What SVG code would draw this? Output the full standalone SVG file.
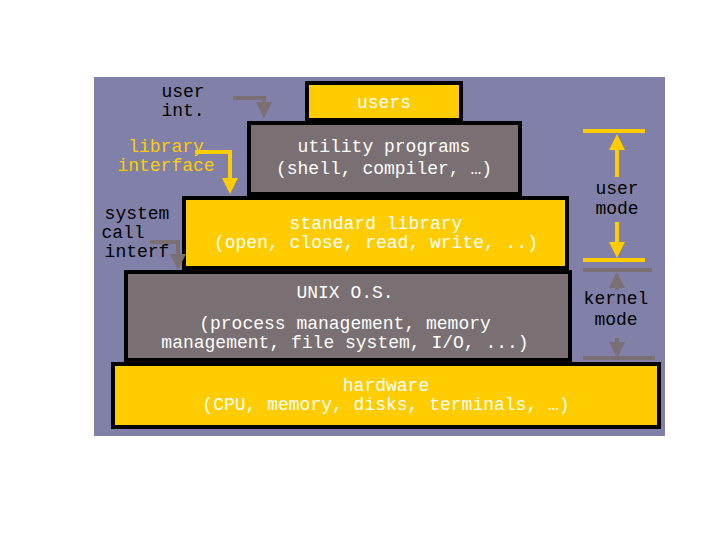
<svg xmlns="http://www.w3.org/2000/svg" width="720" height="540" viewBox="0 0 720 540">
<style>
.y{fill:#ffcc00;stroke:#000;stroke-width:4}
.g{fill:#7a6f72;stroke:#000;stroke-width:4}
text{font-family:"Liberation Mono","DejaVu Sans Mono",monospace;font-size:18px;text-anchor:middle}
.w{fill:#fff}
.k{fill:#000}
.o{fill:#ffcc00}
.ly{stroke:#ffcc00;stroke-width:4;fill:none}
.lg{stroke:#7a6f72;stroke-width:4;fill:none}
</style>
<defs>
<marker id="ay" markerWidth="4" markerHeight="4" refX="2" refY="2" orient="auto"><path d="M0,0L4,2L0,4z" fill="#ffcc00"/></marker>
<marker id="ag" markerWidth="4" markerHeight="4" refX="2" refY="2" orient="auto"><path d="M0,0L4,2L0,4z" fill="#7a6f72"/></marker>
</defs>
<rect x="94" y="77" width="571" height="359" fill="#8080a8"/>
<g id="users"><rect class="y" x="307" y="83" width="154" height="37"/><text class="w" x="384" y="108">users</text></g>
<g id="utility"><rect class="g" x="249" y="123" width="271" height="71"/><text class="w" x="384" y="152">utility programs</text><text class="w" x="384" y="174">(shell, compiler, …)</text></g>
<g id="stdlib"><rect class="y" x="184" y="198" width="383" height="70"/><text class="w" x="376" y="229">standard library</text><text class="w" x="376" y="248">(open, close, read, write, ..)</text></g>
<g id="unix"><rect class="g" x="126" y="272" width="444" height="88"/><text class="w" x="345" y="298">UNIX O.S.</text><text class="w" x="345" y="329">(process management, memory</text><text class="w" x="345" y="348">management, file system, I/O, ...)</text></g>
<g id="hardware"><rect class="y" x="113" y="364" width="546" height="63"/><text class="w" x="386" y="391">hardware</text><text class="w" x="386" y="410">(CPU, memory, disks, terminals, …)</text></g>
<g id="labels">
<text class="k" x="183" y="97">user</text><text class="k" x="183" y="116">int.</text>
<text class="o" x="166" y="152">library</text><text class="o" x="166" y="171">interface</text>
<text class="k" x="137" y="219" >system</text><text class="k" x="123" y="238">call</text><text class="k" x="137" y="257">interf</text>
<text class="k" x="617" y="194">user</text><text class="k" x="617" y="214">mode</text>
<text class="k" x="616" y="304">kernel</text><text class="k" x="616" y="325">mode</text>
</g>
<g id="connectors">
<path class="lg" d="M233,98H264V110" marker-end="url(#ag)"/>
<path class="ly" d="M195,152H230V186" marker-end="url(#ay)"/>
<path class="lg" d="M150,242H178V262" marker-end="url(#ag)"/>
<line class="ly" x1="583" y1="131" x2="645" y2="131"/>
<line class="ly" x1="617" y1="177" x2="617" y2="142" marker-end="url(#ay)"/>
<line class="ly" x1="617" y1="222" x2="617" y2="250" marker-end="url(#ay)"/>
<line class="ly" x1="583" y1="260" x2="645" y2="260"/>
<line class="lg" x1="583" y1="270" x2="652" y2="270"/>
<line class="lg" x1="617" y1="290" x2="617" y2="280" marker-end="url(#ag)"/>
<line class="lg" x1="617" y1="338" x2="617" y2="350" marker-end="url(#ag)"/>
<line class="lg" x1="583" y1="358" x2="655" y2="358"/>
</g>
</svg>
